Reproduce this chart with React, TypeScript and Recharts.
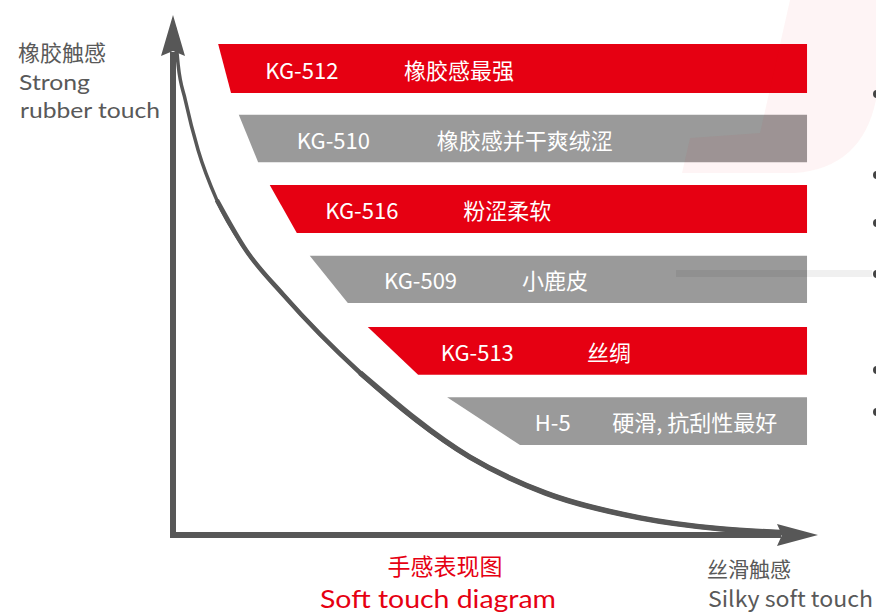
import React from 'react';
import { ComposedChart, Line, XAxis, YAxis, ReferenceArea, ReferenceLine } from 'recharts';

// 曲线：x = 丝滑程度 (0-100), y = 橡胶感 (0-100)
const curveX = [0.3, 0.8, 1.9, 3.9, 6.8, 11.3, 17.1, 29.0, 46.0, 57.7, 72.4, 84.8, 95.7];
const curveY = [97.5, 90.4, 83.7, 74.0, 64.4, 54.8, 46.2, 31.2, 15.0, 8.1, 3.3, 1.2, 0.4];

// 产品条
const codes = ['KG-512', 'KG-510', 'KG-516', 'KG-509', 'KG-513', 'H-5'];
const labels = ['橡胶感最强', '橡胶感并干爽绒涩', '粉涩柔软', '小鹿皮', '丝绸', '硬滑, 抗刮性最好'];
const topFeel = [94.4, 80.8, 67.3, 53.7, 40.0, 26.5];
const bottomFeel = [85.0, 71.7, 58.1, 44.6, 30.8, 17.3];
const startTop = [7.0, 10.2, 15.0, 21.2, 30.2, 42.5];
const startBottom = [9.0, 13.2, 19.2, 27.1, 38.0, 53.8];
const endFeel = 98.3;

// 文字所在位置 (x 轴单位)
const codeAt = [14.3, 19.2, 23.6, 32.7, 41.5, 56.1];
const labelAt = [35.8, 40.9, 45.0, 54.1, 64.2, 68.1];

const RED = '#e60012';
const GRAY = '#9a9a9a';
const AXIS = '#575757';
const TEXT = '#595959';
const CJK = '"Noto Sans CJK SC", "Noto Sans", sans-serif';

// 曲线越往下越粗：后半段叠加更粗的线
const curveData = curveX.map((x, i) => ({
  x,
  y: curveY[i],
  mid: i >= 4 ? curveY[i] : null,
  low: i >= 7 ? curveY[i] : null,
}));

function barShape(i: number) {
  return (p: any) => {
    const { x, y, width, height } = p;
    const unit = width / (endFeel - startTop[i]);
    const toPx = (v: number) => x + (v - startTop[i]) * unit;
    const xb = toPx(startBottom[i]);
    const pts = `${x},${y} ${x + width},${y} ${x + width},${y + height} ${xb},${y + height}`;
    const cy = y + height / 2;
    return (
      <g>
        <polygon points={pts} fill={i % 2 === 0 ? RED : GRAY} />
        <text x={toPx(codeAt[i])} y={cy} dominantBaseline="central" fill="#fff" fontSize={22} fontFamily={CJK}>
          {codes[i]}
        </text>
        <text x={toPx(labelAt[i])} y={cy} dominantBaseline="central" fill="#fff" fontSize={22} fontFamily={CJK}>
          {labels[i]}
        </text>
      </g>
    );
  };
}

// 坐标轴箭头
function arrowShape(dir: 'up' | 'right') {
  return (p: any) => {
    const { x1, y1, x2, y2 } = p;
    const len = 41;
    const half = 12;
    if (dir === 'up') {
      const tipX = x2, tipY = Math.min(y1, y2);
      const baseY = Math.max(y1, y2);
      return (
        <g>
          <line x1={tipX} y1={baseY + 3} x2={tipX} y2={tipY + len - 4} stroke={AXIS} strokeWidth={6} />
          <polygon
            points={`${tipX},${tipY} ${tipX + half},${tipY + len} ${tipX},${tipY + len - 5} ${tipX - half},${tipY + len}`}
            fill={AXIS}
          />
        </g>
      );
    }
    const tipX = Math.max(x1, x2), tipY = y2;
    const baseX = Math.min(x1, x2);
    return (
      <g>
        <line x1={baseX - 3} y1={tipY} x2={tipX - len + 4} y2={tipY} stroke={AXIS} strokeWidth={6} />
        <polygon
          points={`${tipX},${tipY} ${tipX - len},${tipY - half + 1} ${tipX - len + 5},${tipY} ${tipX - len},${tipY + half - 1}`}
          fill={AXIS}
        />
      </g>
    );
  };
}

const dotsY = [94, 175, 223, 274, 370, 412];

export default function App() {
  return (
    <div style={{ position: 'absolute', left: 0, top: 0, width: 876, height: 615, background: '#fff' }}>
      <ComposedChart
        width={876}
        height={615}
        data={curveData}
        margin={{ top: 15, right: 58, bottom: 80, left: 173 }}
      >
        <XAxis type="number" dataKey="x" domain={[0, 100]} hide />
        <YAxis type="number" domain={[0, 100]} hide />

        {codes.map((c, i) => (
          <ReferenceArea
            key={c}
            x1={startTop[i]}
            x2={endFeel}
            y1={bottomFeel[i]}
            y2={topFeel[i]}
            ifOverflow="visible"
            shape={barShape(i)}
          />
        ))}

        <Line type="monotone" dataKey="y" stroke={AXIS} strokeWidth={3.5} dot={false} activeDot={false} isAnimationActive={false} />
        <Line type="monotone" dataKey="mid" stroke={AXIS} strokeWidth={4.5} dot={false} activeDot={false} isAnimationActive={false} />
        <Line type="monotone" dataKey="low" stroke={AXIS} strokeWidth={5.5} dot={false} activeDot={false} isAnimationActive={false} />

        <ReferenceLine
          segment={[{ x: 0, y: 0 }, { x: 0, y: 100 }]}
          ifOverflow="visible"
          shape={arrowShape('up')}
        />
        <ReferenceLine
          segment={[{ x: 0, y: 0 }, { x: 100, y: 0 }]}
          ifOverflow="visible"
          shape={arrowShape('right')}
        />
      </ComposedChart>

      {/* 标题和背景装饰 */}
      <svg
        width={876}
        height={615}
        style={{ position: 'absolute', left: 0, top: 0, pointerEvents: 'none' }}
      >
        <path d="M790,0 L760,133 L690,138 L682,173 L795,173 Q862,168 876,100 L876,0 Z" fill="rgba(230,0,18,0.045)" />
        <rect x={676} y={270} width={196} height={7} fill="rgba(0,0,0,0.06)" />
        {dotsY.map((y) => (
          <circle key={y} cx={877} cy={y} r={4} fill="#444" />
        ))}

        <text x={18} y={51} dominantBaseline="central" fontSize={22} fill={TEXT} fontFamily={CJK}>橡胶触感</text>
        <text x={19} y={90} fontSize={21} fill={TEXT} fontFamily="Lato, sans-serif" textLength={71} lengthAdjust="spacingAndGlyphs">Strong</text>
        <text x={20} y={118} fontSize={21} fill={TEXT} fontFamily="Lato, sans-serif" textLength={140} lengthAdjust="spacingAndGlyphs">rubber touch</text>

        <text x={445} y={565} textAnchor="middle" dominantBaseline="central" fontSize={23} fill={RED} fontFamily={CJK}>手感表现图</text>
        <text x={320} y={608} fontSize={25} fill={RED} fontFamily="Lato, sans-serif" textLength={236} lengthAdjust="spacingAndGlyphs">Soft touch diagram</text>

        <text x={707} y={568} dominantBaseline="central" fontSize={21} fill={TEXT} fontFamily={CJK}>丝滑触感</text>
        <text x={708} y={607} fontSize={22} fill={TEXT} fontFamily={CJK} textLength={165} lengthAdjust="spacingAndGlyphs">Silky soft touch</text>
      </svg>
    </div>
  );
}
